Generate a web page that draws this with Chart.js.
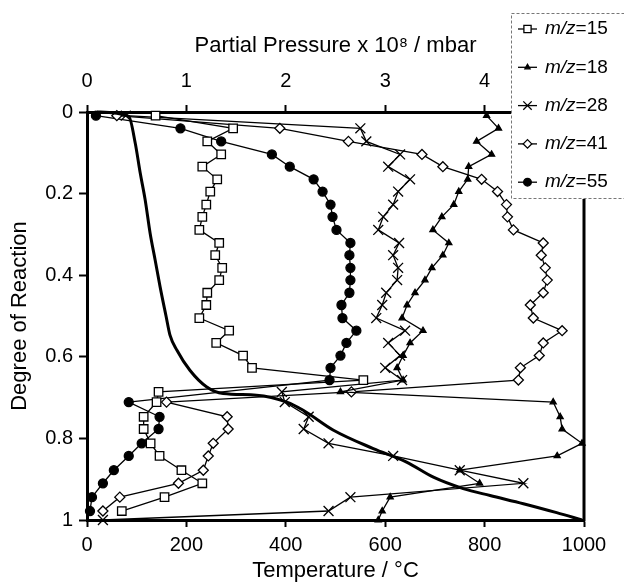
<!DOCTYPE html>
<html>
<head>
<meta charset="utf-8">
<script src="https://cdn.jsdelivr.net/npm/chart.js@4.4.0/dist/chart.umd.min.js"></script>
<style>
  html, body { margin: 0; padding: 0; background: #fff; }
  #wrap { width: 624px; height: 582px; }
</style>
</head>
<body>
<div id="wrap"><canvas id="chart" width="624" height="582"></canvas></div>
<script>
// Degree of reaction for each MS scan (shared by all m/z traces)
const degree = [0.009, 0.040, 0.072, 0.104, 0.134, 0.165, 0.195, 0.227, 0.257, 0.289, 0.321,
    0.351, 0.382, 0.412, 0.443, 0.473, 0.505, 0.536, 0.566, 0.597, 0.627, 0.657, 0.686,
    0.711, 0.747, 0.777, 0.812, 0.843, 0.878, 0.910, 0.944, 0.978, 1.0];

// Partial pressures (x 10^8 mbar), null = no point for that scan
const p15 = [0.69, 1.47, 1.21, 1.35, 1.16, 1.31, 1.24, 1.20, 1.16, 1.13, 1.33, 1.29, 1.36, 1.33,
    1.21, 1.20, 1.13, 1.43, 1.30, 1.57, 1.66, 2.78, 0.72, 0.70, 0.57, 0.57, 0.64, 0.73, 0.95,
    1.16, 0.78, 0.35, null];
const p18 = [4.02, 4.14, 3.92, 4.07, 3.84, 3.83, 3.74, 3.69, 3.57, 3.48, 3.64, 3.58, 3.47, 3.40,
    3.30, 3.22, 3.17, 3.38, 3.25, 3.18, 3.12, 3.18, 2.55, 4.69, 4.76, 4.78, 4.98, 4.73, 3.75,
    3.95, 3.05, 2.97, 2.93];
const p28 = [0.39, 2.75, 2.81, 3.15, 3.03, 3.25, 3.13, 3.08, 2.98, 2.93, 3.14, 3.08, 3.13, 3.12,
    3.01, 2.97, 2.91, 3.20, 3.03, 3.15, 3.00, 3.17, 1.96, 1.99, 2.23, 2.18, 2.43, 3.08, 3.75,
    4.39, 2.65, 2.43, 0.16];
const p41 = [0.30, 1.94, 2.63, 3.37, 3.58, 3.97, 4.13, 4.22, 4.23, 4.29, 4.59, 4.57, 4.61, 4.63,
    4.59, 4.46, 4.49, 4.78, 4.59, 4.55, 4.36, 4.34, 2.66, 0.80, 1.41, 1.42, 1.27, 1.22, 1.17,
    0.92, 0.33, 0.16, null];
const p55 = [0.09, 0.94, 1.35, 1.86, 2.04, 2.28, 2.37, 2.45, 2.47, 2.51, 2.65, 2.64, 2.65, 2.65,
    2.64, 2.56, 2.57, 2.71, 2.61, 2.55, 2.45, 2.44, null, 0.42, 0.73, 0.72, 0.55, 0.42, 0.27,
    0.16, 0.05, 0.03, null];

// Degree of reaction vs temperature (thick curve)
const tempC = [20, 84, 97, 107, 117, 127, 137, 147, 159, 167, 181, 207, 241, 274, 341, 402,
    435, 496, 576, 643, 697, 757, 811, 878, 945, 996];
const tempDegree = [0, 0.011, 0.076, 0.149, 0.215, 0.297, 0.362, 0.428, 0.500, 0.547, 0.584,
    0.633, 0.674, 0.690, 0.694, 0.711, 0.731, 0.780, 0.825, 0.858, 0.895, 0.923, 0.940, 0.960,
    0.982, 1.0];

const FONT = "'Liberation Sans', Arial, sans-serif";

const series = [
    { mz: '15', values: p15, style: 'rect', radius: 6, fill: '#fff' },
    { mz: '18', values: p18, style: 'triangle', radius: 3.5, fill: '#000' },
    { mz: '28', values: p28, style: 'crossRot', radius: 7, fill: '#000' },
    { mz: '41', values: p41, style: 'rectRot', radius: 5, fill: '#fff' },
    { mz: '55', values: p55, style: 'circle', radius: 4.5, fill: '#000' }
];

const toPoints = (xs) => xs.map((x, i) => x === null ? null : { x, y: degree[i] }).filter(Boolean);

const datasets = series.map(s => ({
    label: 'm/z=' + s.mz,
    data: toPoints(s.values),
    xAxisID: 'x2',
    yAxisID: 'y',
    showLine: true,
    borderColor: '#000',
    borderWidth: 1.3,
    pointStyle: s.style,
    pointRadius: s.radius,
    pointBackgroundColor: s.fill,
    pointBorderColor: '#000',
    pointBorderWidth: 1.3,
    tension: 0,
    clip: false
}));

datasets.unshift({
    label: 'Temperature',
    data: tempC.map((t, i) => ({ x: t, y: tempDegree[i] })),
    xAxisID: 'x',
    yAxisID: 'y',
    showLine: true,
    borderColor: '#000',
    borderWidth: 3,
    pointRadius: 0,
    cubicInterpolationMode: 'monotone',
    clip: false
});

// right frame line + legend box drawn by hand
const frameAndLegend = {
    id: 'frameAndLegend',
    afterDraw(chart) {
        const { ctx, chartArea } = chart;
        ctx.save();
        ctx.strokeStyle = '#000';
        ctx.lineWidth = 3;
        ctx.beginPath();
        ctx.moveTo(chartArea.right, chartArea.top);
        ctx.lineTo(chartArea.right, chartArea.bottom + 1.5);
        ctx.stroke();

        ctx.fillStyle = '#fff';
        ctx.fillRect(511, 13, 130, 186);
        ctx.strokeStyle = '#777';
        ctx.lineWidth = 1;
        ctx.setLineDash([3, 2]);
        ctx.strokeRect(511.5, 13.5, 130, 185);
        ctx.setLineDash([]);

        series.forEach((s, i) => {
            const y = 29 + i * 38.3;
            ctx.strokeStyle = '#000';
            ctx.lineWidth = 1.3;
            ctx.beginPath();
            ctx.moveTo(518, y);
            ctx.lineTo(537, y);
            ctx.stroke();
            ctx.fillStyle = s.fill;
            Chart.helpers.drawPoint(ctx, {
                pointStyle: s.style,
                radius: s.radius * 0.85,
                rotation: 0,
                borderWidth: 1.3
            }, 527.5, y);

            ctx.fillStyle = '#000';
            ctx.textBaseline = 'middle';
            ctx.textAlign = 'left';
            ctx.font = 'italic 19px ' + FONT;
            ctx.fillText('m/z', 545, y);
            const w = ctx.measureText('m/z').width;
            ctx.font = '19px ' + FONT;
            ctx.fillText('=' + s.mz, 545 + w, y);
        });
        ctx.restore();
    }
};

const tickFont = { family: FONT, size: 20 };
const titleFont = { family: FONT, size: 22, lineHeight: 1 };
const plain = (v) => String(Math.round(v * 10) / 10);

const axisBase = () => ({
    type: 'linear',
    grid: { drawOnChartArea: false, drawTicks: true, tickLength: 7, tickWidth: 2, tickColor: '#000' },
    border: { display: true, color: '#000', width: 3 }
});

new Chart(document.getElementById('chart'), {
    type: 'scatter',
    data: { datasets },
    plugins: [frameAndLegend],
    options: {
        responsive: false,
        animation: false,
        devicePixelRatio: 1,
        layout: { padding: { left: 0, right: 40, top: 0, bottom: 0 } },
        plugins: { legend: { display: false }, tooltip: { enabled: false } },
        scales: {
            x: {
                ...axisBase(),
                position: 'bottom',
                min: 0, max: 1000,
                ticks: { color: '#000', font: tickFont, stepSize: 200, padding: 6, callback: plain },
                title: { display: true, text: 'Temperature / °C', color: '#000', font: titleFont, padding: { top: 0, bottom: 0 } },
                afterFit: (scale) => { scale.height = 62; }
            },
            x2: {
                ...axisBase(),
                position: 'top',
                min: 0, max: 5,
                ticks: { color: '#000', font: tickFont, stepSize: 1, padding: 12, callback: plain },
                title: { display: true, text: 'Partial Pressure x 10⁸ / mbar', color: '#000', font: titleFont, padding: { top: 35, bottom: 0 } },
                afterFit: (scale) => { scale.height = 112; }
            },
            y: {
                ...axisBase(),
                position: 'left',
                reverse: true,
                min: 0, max: 1,
                grid: { drawOnChartArea: false, drawTicks: true, tickLength: 8, tickWidth: 2, tickColor: '#000' },
                ticks: { color: '#000', font: tickFont, stepSize: 0.2, padding: 6, callback: plain },
                title: { display: true, text: 'Degree of Reaction', color: '#000', font: titleFont, padding: { top: 9, bottom: 0 } },
                afterFit: (scale) => { scale.width = 87; }
            }
        }
    }
});
</script>
</body>
</html>
